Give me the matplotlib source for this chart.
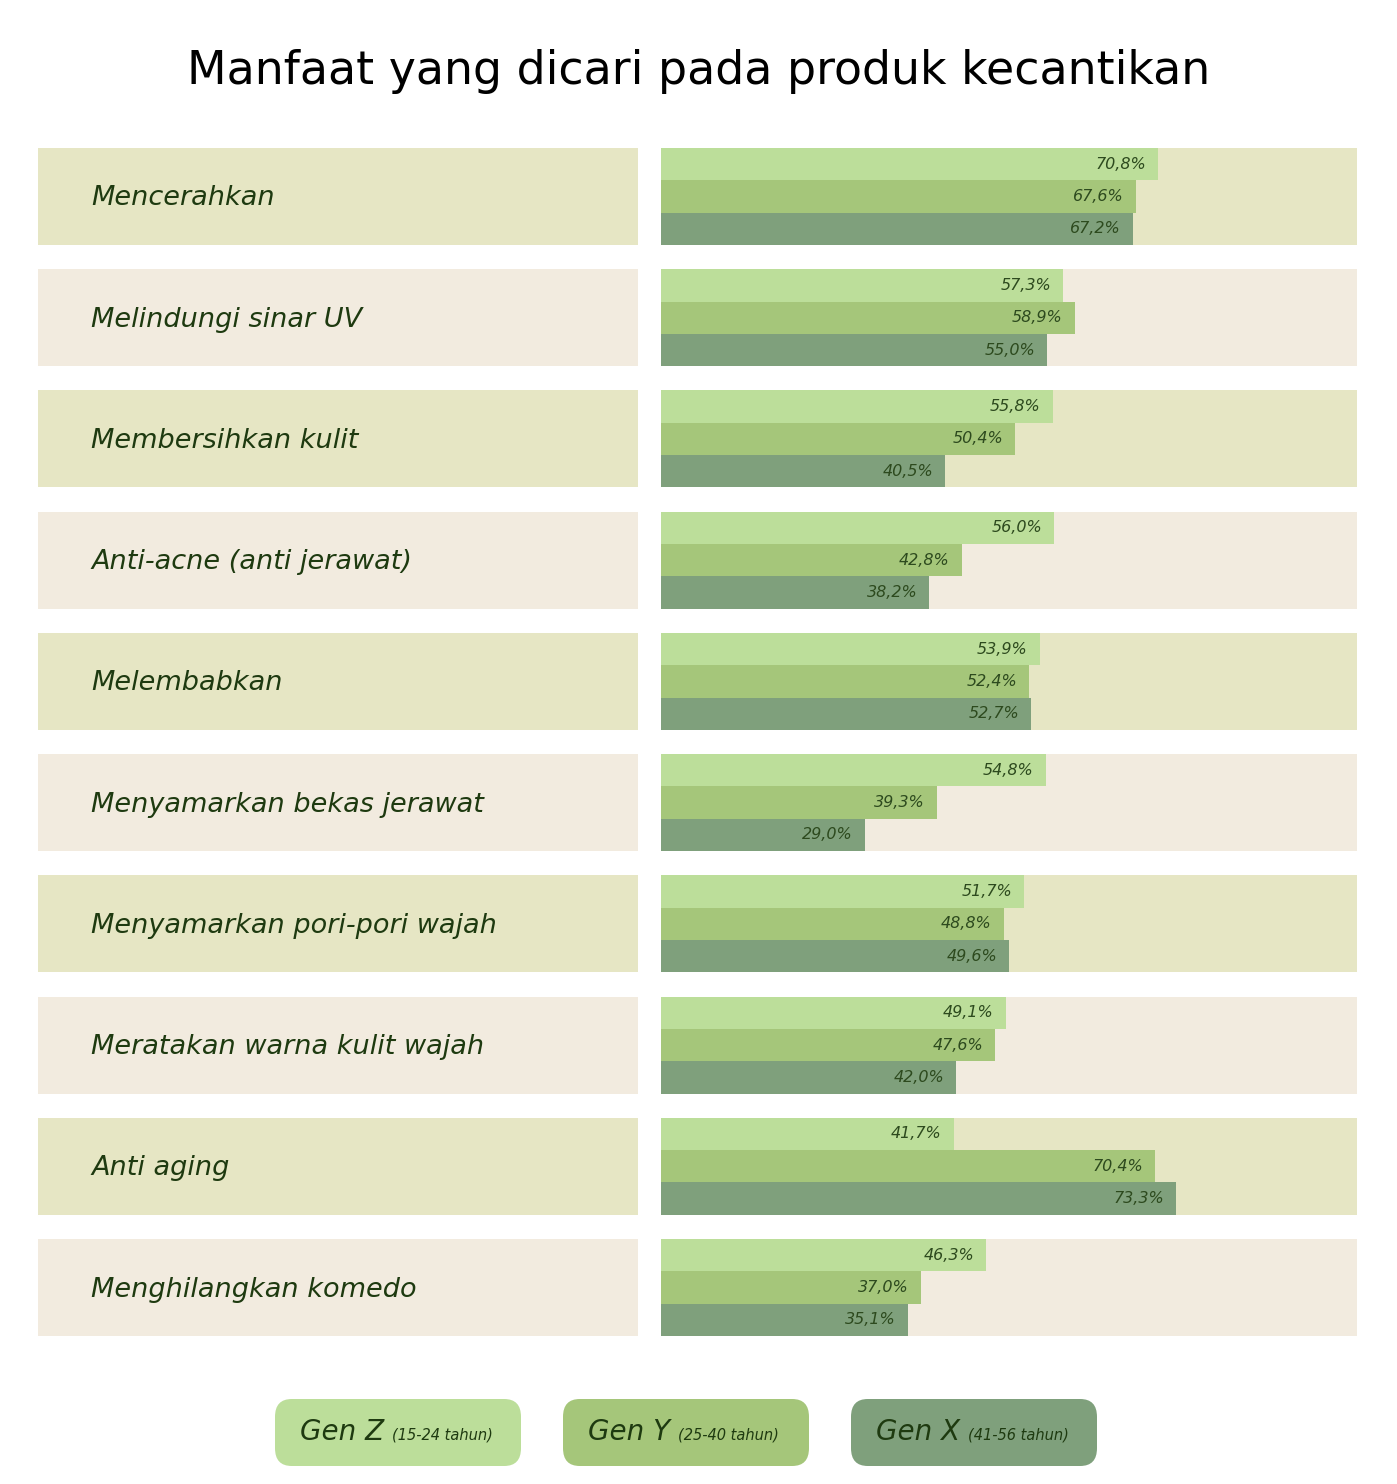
import matplotlib.pyplot as plt
import numpy as np
from matplotlib.patches import FancyBboxPatch

# ---- data -------------------------------------------------------------
categories = [
    "Mencerahkan",
    "Melindungi sinar UV",
    "Membersihkan kulit",
    "Anti-acne (anti jerawat)",
    "Melembabkan",
    "Menyamarkan bekas jerawat",
    "Menyamarkan pori-pori wajah",
    "Meratakan warna kulit wajah",
    "Anti aging",
    "Menghilangkan komedo",
]
gen_z = [70.8, 57.3, 55.8, 56.0, 53.9, 54.8, 51.7, 49.1, 41.7, 46.3]
gen_y = [67.6, 58.9, 50.4, 42.8, 52.4, 39.3, 48.8, 47.6, 70.4, 37.0]
gen_x = [67.2, 55.0, 40.5, 38.2, 52.7, 29.0, 49.6, 42.0, 73.3, 35.1]
series_names = ["Gen Z", "Gen Y", "Gen X"]
series_ages = ["(15-24 tahun)", "(25-40 tahun)", "(41-56 tahun)"]

# ---- style ------------------------------------------------------------
plt.rcParams["font.family"] = "DejaVu Sans"
W, H = 1397, 1484
BAR_COLORS = ["#BCDE9A", "#A5C67A", "#7FA07C"]
ROW_BG = ["#E6E6C4", "#F2EBDF"]
TXT = "#1E3A10"
XMAX = 99.1
ROW_H = 0.8

fig = plt.figure(figsize=(W / 100, H / 100), dpi=100)
fig.patch.set_facecolor("white")


def frac_box(x0, y0, x1, y1):
    # pixel box (top-left origin) -> figure fraction [l, b, w, h]
    return [x0 / W, 1 - y1 / H, (x1 - x0) / W, (y1 - y0) / H]


n = len(categories)
ypos = np.arange(n)
row_colors = [ROW_BG[i % 2] for i in range(n)]

ax_l = fig.add_axes(frac_box(38, 148, 638, 1336))
ax_r = fig.add_axes(frac_box(661, 148, 1357, 1336))

# left label boxes
ax_l.barh(ypos, 1.0, height=ROW_H, color=row_colors)
for i, cat in enumerate(categories):
    ax_l.annotate(cat, (53 / 600, i), xytext=(0, -2), textcoords="offset pixels",
                  ha="left", va="center", fontsize=19.5,
                  style="italic", color=TXT)
ax_l.set_xlim(0, 1)

# right bars: background row + three generation bars
ax_r.barh(ypos, XMAX, height=ROW_H, color=row_colors)
bh = ROW_H / 3
for k, vals in enumerate([gen_z, gen_y, gen_x]):
    yy = ypos - ROW_H / 2 + bh * (k + 0.5)
    ax_r.barh(yy, vals, height=bh, color=BAR_COLORS[k])
    for y, v in zip(yy, vals):
        ax_r.annotate(f"{v:.1f}%".replace(".", ","), (v, y),
                      xytext=(-12, 0), textcoords="offset pixels",
                      ha="right", va="center", fontsize=11.5,
                      style="italic", color="#2D4A1E")
ax_r.set_xlim(0, XMAX)

for ax in (ax_l, ax_r):
    ax.set_ylim(n - 1 + ROW_H / 2, -ROW_H / 2)
    ax.axis("off")

# title
fig.text(0.5, 1 - 71 / H, "Manfaat yang dicari pada produk kecantikan",
         ha="center", va="center", fontsize=33, color="black")

# legend pills
pill_x = [275, 563, 851]
for k in range(3):
    x0, x1, y0, y1 = pill_x[k], pill_x[k] + 246, 1399, 1466
    box = FancyBboxPatch((x0 / W, 1 - y1 / H), (x1 - x0) / W, (y1 - y0) / H,
                         boxstyle="round,pad=0,rounding_size=0.012",
                         transform=fig.transFigure, facecolor=BAR_COLORS[k],
                         edgecolor="none")
    fig.patches.append(box)
    t = fig.text((x0 + 25) / W, 1 - 1432 / H, series_names[k], ha="left",
                 va="center", fontsize=20, style="italic", color=TXT)
    fig.canvas.draw()
    bb = t.get_window_extent()
    fig.text((bb.x1 + 8) / W, 1 - 1435 / H, series_ages[k], ha="left",
             va="center", fontsize=10.5, style="italic", color=TXT)

fig.savefig("out.png", dpi=100, facecolor="white")
